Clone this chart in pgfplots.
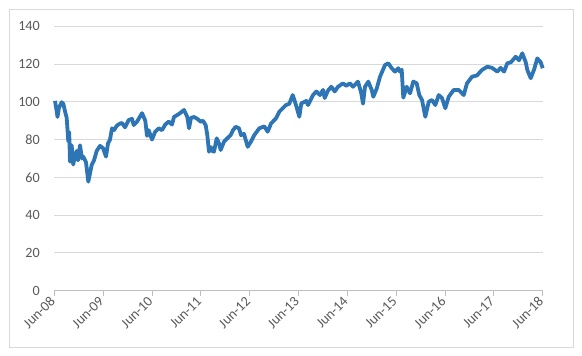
\documentclass[border=0pt]{standalone}
\usepackage{pgfplots}
\pgfplotsset{compat=1.18}
\usepackage{fontspec}
\setmainfont{Carlito}
\definecolor{linecol}{RGB}{46,117,182}
\definecolor{gridcol}{RGB}{217,217,217}
\definecolor{textcol}{RGB}{89,89,89}
\definecolor{axcol}{RGB}{191,191,191}
\begin{document}
\begin{tikzpicture}[x=1bp,y=1bp]
\useasboundingbox (-54.3,-64.3) rectangle (527.7,290.7);
\draw[gridcol, line width=0.9bp] (-45.3,-56.3) rectangle (518.7,281.7);
\begin{axis}[
  at={(0,0)}, anchor=south west,
  scale only axis, width=488.4bp, height=264.4bp,
  xmin=0, xmax=10, ymin=0, ymax=140,
  ytick={0,20,...,140},
  xtick={0,1,...,10},
  xticklabels={Jun-08,Jun-09,Jun-10,Jun-11,Jun-12,Jun-13,Jun-14,Jun-15,Jun-16,Jun-17,Jun-18},
  axis x line*=bottom, axis y line*=left,
  y axis line style={draw=none},
  x axis line style={axcol, line width=0.9bp},
  ytick style={draw=none},
  xtick style={axcol, line width=0.9bp},
  tick align=outside, major tick length=5bp,
  ymajorgrids, grid style={gridcol, line width=0.9bp},
  /pgf/number format/assume math mode=true,
  tick label style={font=\fontsize{14.2}{17}\selectfont, text=textcol},
  yticklabel style={xshift=-6bp},
  xticklabel style={rotate=45, anchor=east, yshift=-1bp},
  clip=false,
]
\addplot[linecol, line width=3.8bp, line join=round] table[x expr={(\thisrow{px}-54.3)/48.84}, y=v] {
px v
55 100.5
56.7 95
57.5 92
59 97
61.7 99.8
63.3 99
65 95
66.7 91.5
68.3 79
69.2 84
70 68.3
71.7 77
72.5 70
73.3 66.8
75 72
76.7 74
78 69
80 77
82 70
83.3 71
86 68
88.3 57.7
91.7 66.6
94 69
96.7 74
100 76.7
103 75.5
106 71
108 78
110 80
112 86
114 85
117 87.5
120 88.5
122 88.8
125 86.5
128.7 90.4
132 91
133.7 87.7
137 89.5
142 94
145.3 90
147 82
148.7 85
150 83
152 80
155 84
158.7 86
162 85
165.3 88
168.7 89.5
172 88
174 92
179 93.6
184 95.7
187.3 92
189 86
191 91.5
194 92
197.3 91
200.7 89.5
203 90
205.7 87.6
207.3 82.4
209 73.6
211 76
212.3 74
214 73.6
216.7 80.7
219 78
220.7 74.5
224 78.9
227.3 80.7
230.7 82.4
233 85
235.7 86.8
239 86
241 82.4
244 83
247.7 76.2
251 79
254.3 82.4
259.3 86
264.3 87
267.7 84.2
271 88.5
276 91.3
279.3 94.8
282.7 96.6
286 98.3
289.3 99
292.7 103.6
296 98.3
299.3 92.1
301.3 99.2
306.3 100.5
308 98.3
313 103.6
316.3 105.5
320 103.6
323 106.3
324.7 102
328 106
331.3 108
334.7 105.5
338 108
343 109.8
346.3 108.5
349.7 109.8
353 108
358 110.7
361.3 104.5
363 99
365 108
368.3 110.7
371.7 106.3
373.3 102.7
376.7 107
380 113.3
385 119.5
388.3 120.4
391.7 117.8
395 116
398.3 117.8
400 116
401.7 117
403.3 102.2
406.7 108
410 104.5
413.3 110.7
416.7 109.8
419.3 103.6
422 101
425.3 92.1
428.7 100
432 101
435.3 98.3
438.7 103.6
442 102
445.3 96.6
448.7 102.7
453.7 106.3
458.7 106.3
463.7 103.6
467 109.8
472 113.3
477 114
482 116.9
487.3 118.6
492 118
497.3 116
500.7 118
504 116
507.3 120.4
511 121
515.7 123.9
519 122
522.3 125.7
525.7 121
527.3 116.9
530.7 112.5
534 117
537.3 123
540.7 121
542.7 117.8
};
\end{axis}
\end{tikzpicture}
\end{document}
